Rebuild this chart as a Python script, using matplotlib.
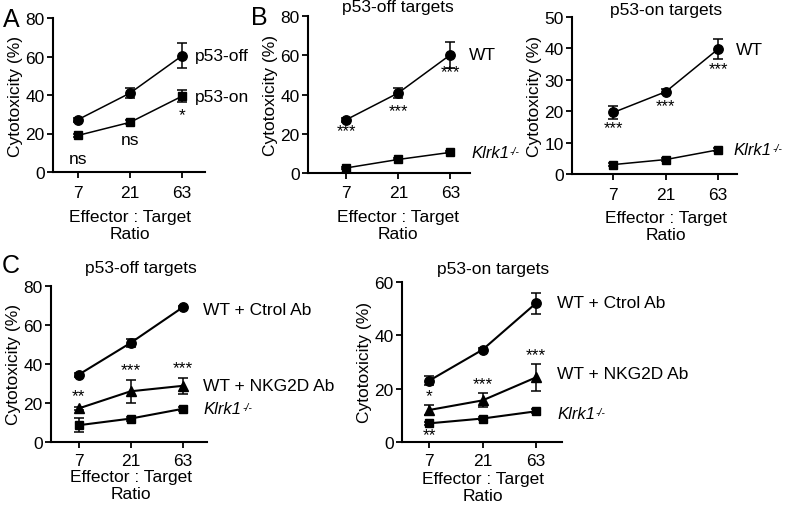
import matplotlib.pyplot as plt
from matplotlib.transforms import blended_transform_factory

plt.rcParams['font.family'] = ['Liberation Sans', 'DejaVu Sans']

ratios = ['7', '21', '63']

# A
a_off = [27.2, 41.0, 60.4]
a_off_err = [1.0, 2.6, 6.5]
a_on = [19.0, 25.8, 39.4]
a_on_err = [1.0, 1.0, 3.0]
a_sig = ['ns', 'ns', '*']

# B
b_off_wt = [27.2, 40.8, 60.2]
b_off_wt_err = [1.0, 2.5, 6.5]
b_off_ko = [2.6, 6.9, 10.5]
b_off_ko_err = [0.5, 0.5, 0.5]
b_on_wt = [19.6, 26.2, 39.8]
b_on_wt_err = [2.0, 0.8, 3.2]
b_on_ko = [3.0, 4.6, 7.7]
b_on_ko_err = [0.4, 0.4, 0.5]
b_sig = ['***', '***', '***']

# C
c_off_ctrl = [34.5, 50.8, 69.0]
c_off_ctrl_err = [1.0, 2.2, 1.0]
c_off_nkg = [17.2, 26.0, 28.8]
c_off_nkg_err = [1.0, 6.0, 4.2]
c_off_ko = [8.6, 12.0, 17.0]
c_off_ko_err = [3.5, 1.0, 1.0]
c_off_sig = ['**', '***', '***']
c_on_ctrl = [23.0, 34.6, 52.0]
c_on_ctrl_err = [1.6, 0.8, 4.0]
c_on_nkg = [12.0, 15.6, 24.2]
c_on_nkg_err = [2.0, 2.6, 5.0]
c_on_ko = [7.0, 8.8, 11.5]
c_on_ko_err = [0.5, 0.5, 0.8]
c_on_sig = ['*', '***', '***']

FS = 12.5
W, H = 786, 510

fig = plt.figure(figsize=(W / 100, H / 100), dpi=100)


def make_ax(x0, x1, ytop, ybot, ymax, ystep, xl, xr, lab_y, xpad=5):
    ax = fig.add_axes([x0 / W, 1 - ybot / H, (x1 - x0) / W, (ybot - ytop) / H])
    ax.set_xlim(xl, xr)
    ax.set_ylim(0, ymax)
    ax.set_yticks(range(0, ymax + 1, ystep))
    ax.set_xticks(range(len(ratios)))
    ax.set_xticklabels(ratios)
    for s in ['top', 'right']:
        ax.spines[s].set_visible(False)
    for s in ['left', 'bottom']:
        ax.spines[s].set_linewidth(1.5)
    ax.tick_params(width=1.3, length=4.0, labelsize=FS, pad=2)
    ax.tick_params(axis='x', pad=xpad)
    ax.set_ylabel('Cytotoxicity (%)', fontsize=FS, labelpad=2)
    ax.set_xlabel('Effector : Target\nRatio', fontsize=FS, linespacing=1.2, va='top')
    ax.xaxis.set_label_coords(1, lab_y, transform=blended_transform_factory(ax.transData, ax.transAxes))
    ax.patch.set_alpha(0)
    return ax


def series(ax, y, err, marker, ms, lw=1.1):
    ax.errorbar(range(len(ratios)), y, yerr=err, color='black', marker=marker, ms=ms,
                lw=lw, elinewidth=1.1, capsize=3.5, capthick=1.1, clip_on=False, zorder=3)


def sig(ax, labels, ys, fs=FS):
    for i, (t, yy) in enumerate(zip(labels, ys)):
        ax.text(i, yy, t, ha='center', va='center', fontsize=fs)


def ko_label(ax, x, y):
    t = ax.text(x, y, 'Klrk1', fontsize=12, va='center', style='italic')
    ax.annotate('-/-', xy=(1, 1), xycoords=t, xytext=(0.5, -0.5), textcoords='offset points',
                ha='left', va='top', fontsize=7.5, style='italic')


# panel A
ax = make_ax(53, 205, 19, 173, 80, 20, -0.48, 2.44, -0.238)
series(ax, a_off, a_off_err, 'o', 6.8)
series(ax, a_on, a_on_err, 's', 6.3)
ax.text(0, 7, a_sig[0], ha='center', va='center', fontsize=FS)
ax.text(1, 17, a_sig[1], ha='center', va='center', fontsize=FS)
ax.text(2, 30, a_sig[2], ha='center', va='center', fontsize=FS)
ax.text(2.25, 60.4, 'p53-off', fontsize=FS, va='center')
ax.text(2.25, 39.4, 'p53-on', fontsize=FS, va='center')
fig.text(3 / W, 1 - 20 / H, 'A', fontsize=18, va='center')

# panel B left
ax = make_ax(308, 470, 17, 174, 80, 20, -0.74, 2.38, -0.228)
series(ax, b_off_wt, b_off_wt_err, 'o', 6.8)
series(ax, b_off_ko, b_off_ko_err, 's', 6.3)
sig(ax, b_sig, [21.5, 32.0, 51.5], fs=12)
ax.text(1, 84.6, 'p53-off targets', ha='center', va='center', fontsize=FS)
ax.text(2.36, 60.2, 'WT', fontsize=FS, va='center')
ko_label(ax, 2.4, 10.5)
fig.text(251 / W, 1 - 18 / H, 'B', fontsize=18, va='center')

# panel B right
ax = make_ax(572, 737, 18, 175, 50, 10, -0.79, 2.36, -0.228)
series(ax, b_on_wt, b_on_wt_err, 'o', 6.8)
series(ax, b_on_ko, b_on_ko_err, 's', 6.3)
sig(ax, b_sig, [14.8, 21.8, 33.6], fs=12)
ax.text(1, 52.5, 'p53-on targets', ha='center', va='center', fontsize=FS)
ax.text(2.33, 39.8, 'WT', fontsize=FS, va='center')
ko_label(ax, 2.3, 7.7)

# panel C left
ax = make_ax(51, 207, 287, 443, 80, 20, -0.53, 2.47, -0.171, xpad=4)
series(ax, c_off_ctrl, c_off_ctrl_err, 'o', 6.8, lw=1.5)
series(ax, c_off_nkg, c_off_nkg_err, '^', 7, lw=1.5)
series(ax, c_off_ko, c_off_ko_err, 's', 6.3, lw=1.5)
sig(ax, c_off_sig, [24.0, 37.0, 38.0])
ax.text(1.2, 89.7, 'p53-off targets', ha='center', va='center', fontsize=FS)
ax.text(2.4, 68, 'WT + Ctrol Ab', fontsize=FS, va='center')
ax.text(2.4, 29, 'WT + NKG2D Ab', fontsize=FS, va='center')
ko_label(ax, 2.4, 17)
fig.text(2 / W, 1 - 266 / H, 'C', fontsize=18, va='center')

# panel C right
ax = make_ax(402, 562, 283, 443, 60, 20, -0.51, 2.49, -0.18, xpad=4)
series(ax, c_on_ctrl, c_on_ctrl_err, 'o', 6.8, lw=1.5)
series(ax, c_on_nkg, c_on_nkg_err, '^', 7, lw=1.5)
series(ax, c_on_ko, c_on_ko_err, 's', 6.3, lw=1.5)
sig(ax, c_on_sig, [17.5, 22.0, 32.8])
ax.text(0, 2.8, '**', ha='center', va='center', fontsize=FS)
ax.text(1.2, 64.9, 'p53-on targets', ha='center', va='center', fontsize=FS)
ax.text(2.4, 52.4, 'WT + Ctrol Ab', fontsize=FS, va='center')
ax.text(2.4, 25.5, 'WT + NKG2D Ab', fontsize=FS, va='center')
ko_label(ax, 2.4, 10.5)

fig.savefig('out.png', dpi=100)
